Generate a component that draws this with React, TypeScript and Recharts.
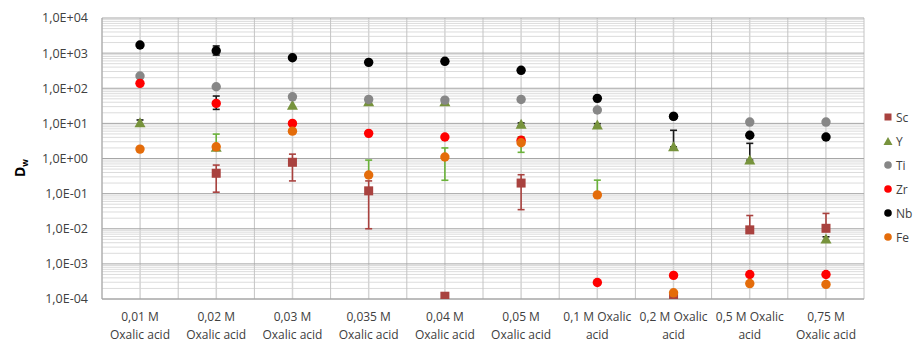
// Distribution ratios (D_w) of Sc, Y, Ti, Zr, Nb, Fe vs oxalic acid concentration
// Log-scale scatter with error bars, drawn as strokeless Lines

import React from 'react';
import {
  ComposedChart,
  Line,
  XAxis,
  YAxis,
  CartesianGrid,
  ErrorBar,
} from 'recharts';

const concLine1 = ['0,01 M', '0,02 M', '0,03 M', '0,035 M', '0,04 M', '0,05 M', '0,1 M Oxalic', '0,2 M Oxalic', '0,5 M Oxalic', '0,75 M'];
const concLine2 = ['Oxalic acid', 'Oxalic acid', 'Oxalic acid', 'Oxalic acid', 'Oxalic acid', 'Oxalic acid', 'acid', 'acid', 'acid', 'Oxalic acid'];

const sc = [null, 0.38, 0.78, 0.12, 1.2e-4, 0.2, null, 1.07e-4, 0.0093, 0.0103];
const y = [10.5, 2.1, 33, 41, 41, 9.5, 9.0, 2.15, 0.9, 0.0051];
const ti = [223, 110, 57, 48, 46, 48, 24, 16, 10.9, 10.9];
const zr = [138, 37, 10, 5.2, 4.1, 3.3, 2.95e-4, 4.7e-4, 5.0e-4, 5.0e-4];
const nb = [1700, 1170, 740, 547, 585, 324, 51.5, 15.8, 4.6, 4.1];
const fe = [1.85, 2.15, 6.0, 0.34, 1.1, 2.8, 0.092, 1.5e-4, 2.75e-4, 2.6e-4];

// error bars as [minus, plus]
const scErr = [null, [0.27, 0.27], [0.55, 0.55], [0.11, 0.11], null, [0.165, 0.145], null, null, [0, 0.0145], [0, 0.017]];
const yErr = [[2, 2], null, null, null, null, [0.8, 0.8], [0.8, 0.8], [0, 4.2], [0, 1.8], [0.0008, 0.0008]];
const zrErr = [null, [12, 23], null, null, null, null, null, null, null, null];
const nbErr = [[80, 80], [290, 430], null, null, null, null, null, null, null, null];
const feErr = [null, [0, 2.8], null, [0, 0.56], [0.86, 0.9], [1.3, 1.35], [0, 0.15], null, null, null];

const majorTicks = [1e-4, 1e-3, 1e-2, 1e-1, 1, 10, 100, 1000, 10000];
const minorTicks: number[] = [];
for (let e = -4; e < 4; e++) {
  for (let m = 2; m <= 9; m++) minorTicks.push(m * Math.pow(10, e));
}

const data = concLine1.map((c, i) => ({
  cat: i,
  line1: c,
  line2: concLine2[i],
  Sc: sc[i],
  Y: y[i],
  Ti: ti[i],
  Zr: zr[i],
  Nb: nb[i],
  Fe: fe[i],
  ScErr: scErr[i] ?? undefined,
  YErr: yErr[i] ?? undefined,
  ZrErr: zrErr[i] ?? undefined,
  NbErr: nbErr[i] ?? undefined,
  FeErr: feErr[i] ?? undefined,
}));

const COLORS = {
  Sc: '#a9423f',
  Y: '#77933c',
  Ti: '#878787',
  Zr: '#ff0000',
  Nb: '#000000',
  Fe: '#e46c0a',
};

const FONT = '"Open Sans", "Liberation Sans", sans-serif';

function fmtExp(v: number) {
  const e = Math.round(Math.log10(v));
  return `1,0E${e < 0 ? '-' : '+'}${String(Math.abs(e)).padStart(2, '0')}`;
}

// y pixel of a value on the log axis, from the plot offset
function logY(v: number, offset: any) {
  const lo = Math.log10(majorTicks[0]);
  const hi = Math.log10(majorTicks[majorTicks.length - 1]);
  return offset.top + (offset.height * (hi - Math.log10(v))) / (hi - lo);
}

function makeDot(shape: 'circle' | 'square' | 'triangle', color: string) {
  return (props: any) => {
    const { cx, cy, key, index } = props;
    const k = key ?? `d-${index}`;
    if (!Number.isFinite(cx) || !Number.isFinite(cy)) return <g key={k} />;
    if (shape === 'square') {
      return <rect key={k} x={cx - 4.5} y={cy - 4.5} width={9} height={9} fill={color} />;
    }
    if (shape === 'triangle') {
      return (
        <polygon
          key={k}
          points={`${cx},${cy - 5.5} ${cx + 5.5},${cy + 4.5} ${cx - 5.5},${cy + 4.5}`}
          fill={color}
        />
      );
    }
    return <circle key={k} cx={cx} cy={cy} r={4.7} fill={color} />;
  };
}

function CatTick(props: any) {
  const { x, y: ty, payload } = props;
  const row = data[payload.value];
  if (!row) return null;
  return (
    <text x={x} y={ty} textAnchor="middle" fill="#404040" fontSize={12} fontFamily={FONT}>
      <tspan x={x} dy={14}>{row.line1}</tspan>
      <tspan x={x} dy={18}>{row.line2}</tspan>
    </text>
  );
}

function DwLabel() {
  return (
    <text
      transform="translate(25,177) rotate(-90)"
      fill="#000"
      fontSize={14}
      fontWeight="bold"
      fontFamily={FONT}
    >
      D<tspan fontSize={9} dy={3}>w</tspan>
    </text>
  );
}

const legendItems: Array<{ name: keyof typeof COLORS; shape: 'circle' | 'square' | 'triangle' }> = [
  { name: 'Sc', shape: 'square' },
  { name: 'Y', shape: 'triangle' },
  { name: 'Ti', shape: 'circle' },
  { name: 'Zr', shape: 'circle' },
  { name: 'Nb', shape: 'circle' },
  { name: 'Fe', shape: 'circle' },
];

function LegendBox() {
  return (
    <div style={{ position: 'absolute', left: 883, top: 105, fontFamily: FONT, fontSize: 12, color: '#404040' }}>
      {legendItems.map((it) => (
        <div key={it.name} style={{ height: 24, display: 'flex', alignItems: 'center' }}>
          <svg width={10} height={10} style={{ marginRight: 3 }}>
            {it.shape === 'square' && <rect x={1.5} y={1.5} width={7} height={7} fill={COLORS[it.name]} />}
            {it.shape === 'triangle' && <polygon points="5,1 9.5,9 0.5,9" fill={COLORS[it.name]} />}
            {it.shape === 'circle' && <circle cx={5} cy={5} r={3.8} fill={COLORS[it.name]} />}
          </svg>
          <span>{it.name}</span>
        </div>
      ))}
    </div>
  );
}

export default function App() {
  const series: Array<{ key: keyof typeof COLORS; shape: 'circle' | 'square' | 'triangle'; errColor: string }> = [
    { key: 'Sc', shape: 'square', errColor: COLORS.Sc },
    { key: 'Y', shape: 'triangle', errColor: '#1a1a1a' },
    { key: 'Ti', shape: 'circle', errColor: '#1a1a1a' },
    { key: 'Zr', shape: 'circle', errColor: '#1a1a1a' },
    { key: 'Nb', shape: 'circle', errColor: '#1a1a1a' },
    { key: 'Fe', shape: 'circle', errColor: '#6ab23a' },
  ];

  return (
    <div style={{ position: 'absolute', left: 0, top: 0, width: 918, height: 342, background: '#fff' }}>
      <ComposedChart
        width={918}
        height={342}
        data={data}
        margin={{ top: 18, right: 54, bottom: 0, left: 10 }}
      >
        <CartesianGrid
          stroke="#dcdcdc"
          vertical={false}
          horizontalCoordinatesGenerator={({ offset }: any) => minorTicks.map((v) => logY(v, offset))}
        />
        <CartesianGrid
          stroke="#c4c4c4"
          horizontal={false}
          verticalCoordinatesGenerator={({ offset }: any) =>
            Array.from({ length: data.length + 1 }, (_, i) => offset.left + (i * offset.width) / data.length)
          }
        />
        <CartesianGrid
          stroke="#d4d4d4"
          strokeWidth={1.5}
          horizontal={false}
          verticalCoordinatesGenerator={({ offset }: any) =>
            data.map((_, i) => offset.left + ((i + 0.5) * offset.width) / data.length)
          }
        />
        <CartesianGrid
          stroke="#a6a6a6"
          vertical={false}
          horizontalCoordinatesGenerator={({ offset }: any) => majorTicks.map((v) => logY(v, offset))}
        />
        <XAxis
          dataKey="cat"
          type="category"
          interval={0}
          height={43}
          padding={{ left: 38, right: 38 }}
          tickLine={false}
          axisLine={{ stroke: '#a6a6a6' }}
          tick={<CatTick />}
        />
        <YAxis
          scale="log"
          type="number"
          domain={[1e-4, 1e4]}
          ticks={majorTicks}
          allowDataOverflow
          width={92}
          tickLine={false}
          tickMargin={8}
          axisLine={{ stroke: '#a6a6a6' }}
          tickFormatter={fmtExp}
          tick={{ fill: '#404040', fontSize: 12.5, fontFamily: FONT }}
          label={<DwLabel />}
        />
        {series.map((s) => (
          <Line
            key={s.key}
            dataKey={s.key}
            stroke="none"
            isAnimationActive={false}
            activeDot={false}
            legendType="none"
            dot={makeDot(s.shape, COLORS[s.key])}
          >
            <ErrorBar
              dataKey={`${s.key}Err`}
              direction="y"
              width={3.5}
              strokeWidth={1.6}
              stroke={s.errColor}
            />
          </Line>
        ))}
      </ComposedChart>
      <LegendBox />
    </div>
  );
}
